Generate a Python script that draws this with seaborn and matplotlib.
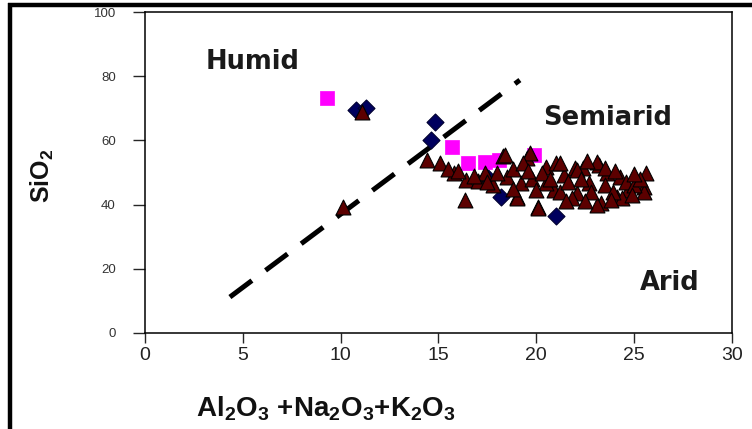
import matplotlib
matplotlib.use("Agg")
import matplotlib.pyplot as plt
from matplotlib.lines import Line2D
import seaborn as sns
import pandas as pd

# Sample compositions: Al2O3 + Na2O3 + K2O3 (x) against SiO2 (y)
diamond_x = [10.8, 11.3, 14.8, 14.6, 17.5, 18.2, 21.0]
diamond_y = [69.5, 70.0, 65.7, 60.0, 48.7, 42.5, 36.3]

square_x = [9.3, 15.7, 16.5, 17.4, 18.1, 19.9]
square_y = [73.2, 57.9, 53.0, 53.3, 53.9, 55.5]

triangle_x = [10.1, 11.1, 14.4, 15.1, 15.8, 16.4, 16.35, 17.0, 17.4, 18.3, 18.5,
              19.5, 19.0, 20.1, 19.2, 20.5, 20.9, 21.4, 22.0, 22.4, 23.2, 23.6,
              24.3, 25.6, 25.5, 21.2, 22.1, 23.3, 24.1, 24.7, 20.5, 22.7, 18.4,
              19.7, 21.0, 22.1, 23.1, 20.1, 19.0, 23.1, 25.5, 24.4, 21.8,
              15.5, 16.0, 16.8, 17.8, 18.0, 18.8, 19.3, 19.8, 20.3, 20.7,
              21.6, 22.3, 22.8, 23.5, 23.9, 24.6, 25.0, 25.3, 21.5, 22.5,
              23.8, 24.9, 18.8, 20.0, 17.5, 19.6, 21.2, 22.6, 23.5, 24.0, 25.0]
triangle_y = [39.3, 68.8, 53.9, 52.9, 49.7, 47.7, 41.4, 47.5, 49.8, 55.0, 48.7,
              54.4, 42.5, 39.3, 46.7, 51.8, 44.5, 49.2, 51.3, 51.3, 52.3, 49.7,
              48.7, 49.7, 45.6, 44.0, 43.5, 40.4, 42.5, 44.5, 46.6, 46.6, 55.5,
              56.0, 52.9, 50.8, 53.4, 38.8, 42.0, 39.9, 44.0, 42.0, 42.0,
              51.0, 50.5, 49.0, 46.0, 50.0, 51.0, 53.0, 48.0, 50.0, 48.0,
              47.0, 48.0, 44.0, 46.0, 44.0, 47.0, 46.0, 48.0, 41.0, 41.0,
              41.5, 43.0, 45.0, 44.5, 47.0, 50.5, 53.0, 53.5, 51.5, 50.5, 49.5]

# Humid / semiarid boundary
boundary_x = [4.34, 19.16]
boundary_y = [11.2, 78.8]

zone_labels = ["Humid", "Semiarid", "Arid"]
zone_x = [5.5, 23.65, 26.8]
zone_y = [84.4, 67.0, 15.6]

x_ticks = [0, 5, 10, 15, 20, 25, 30]
y_ticks = [0, 20, 40, 60, 80, 100]

sns.set_theme(style="white")
plt.rcParams["font.family"] = ["Liberation Sans", "DejaVu Sans"]
plt.rcParams["mathtext.fontset"] = "custom"
plt.rcParams["mathtext.rm"] = "Liberation Sans"
plt.rcParams["mathtext.bf"] = "Liberation Sans:bold"

fig = plt.figure(figsize=(7.52, 4.29), dpi=100)
ax = fig.add_axes([0.1928, 0.2238, 0.7806, 0.7482])

df_d = pd.DataFrame({"x": diamond_x, "y": diamond_y})
df_s = pd.DataFrame({"x": square_x, "y": square_y})
df_t = pd.DataFrame({"x": triangle_x, "y": triangle_y})
df_b = pd.DataFrame({"x": boundary_x, "y": boundary_y})

sns.lineplot(data=df_b, x="x", y="y", ax=ax, color="black", lw=3.6,
             dashes=False, zorder=1)
ax.lines[-1].set_dashes([5.5, 3.4])
ax.lines[-1].set_dash_capstyle("butt")

sns.scatterplot(data=df_d, x="x", y="y", ax=ax, marker="D", s=75,
                color="#00005e", edgecolor="#000030", linewidth=0.8, zorder=2)
sns.scatterplot(data=df_s, x="x", y="y", ax=ax, marker="s", s=110,
                color="#ff00ff", edgecolor="#ff00ff", linewidth=0.5, zorder=3)
sns.scatterplot(data=df_t, x="x", y="y", ax=ax, marker="^", s=115,
                color="#5c0000", edgecolor="black", linewidth=0.8, zorder=4)

for lab, tx, ty in zip(zone_labels, zone_x, zone_y):
    ax.text(tx, ty, lab, ha="center", va="center", fontsize=18.5,
            fontweight="bold", family="DejaVu Sans", color="#1a1a1a")

ax.set_xlim(0, 30)
ax.set_ylim(0, 100)
ax.set_xticks(x_ticks)
ax.set_yticks(y_ticks)
ax.tick_params(axis="x", direction="out", length=7, width=1, labelsize=14,
               labelcolor="#222222", bottom=True, pad=3)
ax.tick_params(axis="y", direction="out", length=9, width=1, labelsize=9.5,
               labelcolor="#333333", left=True, pad=12)
for sp in ax.spines.values():
    sp.set_color("black")
    sp.set_linewidth(1.1)

ax.set_xlabel(r"Al$_\mathbf{2}$O$_\mathbf{3}$ +Na$_\mathbf{2}$O$_\mathbf{3}$+K$_\mathbf{2}$O$_\mathbf{3}$",
              fontsize=20, fontweight="bold", color="#111111")
ax.set_ylabel(r"SiO$_\mathbf{2}$", fontsize=18, fontweight="bold",
              color="#111111")
ax.xaxis.set_label_coords(0.308, -0.19)
ax.yaxis.set_label_coords(-0.152, 0.49)

# frame lines along the top and left edges of the image
fig.add_artist(Line2D([0.0106, 1.0], [0.9895, 0.9895], color="black", lw=3.2,
                      transform=fig.transFigure, solid_capstyle="butt"))
fig.add_artist(Line2D([0.0133, 0.0133], [0.0, 0.992], color="black", lw=3.2,
                      transform=fig.transFigure, solid_capstyle="butt"))

fig.savefig("out.png", dpi=100)
